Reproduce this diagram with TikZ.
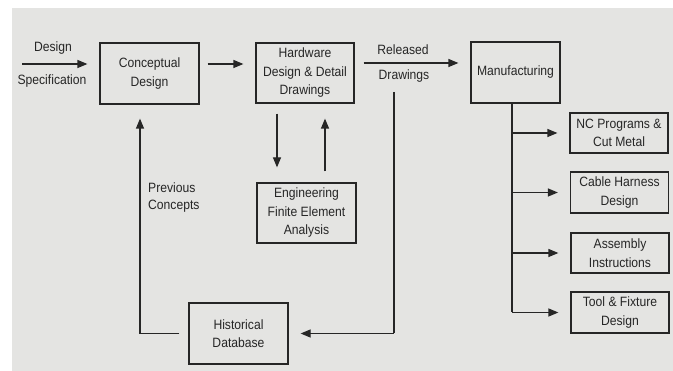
\documentclass[tikz,border=0pt]{standalone}
\usepackage{fontspec}
\setmainfont{Liberation Sans}[FakeStretch=0.9]
\usetikzlibrary{arrows.meta}
\definecolor{panel}{HTML}{E4E4E2}
\definecolor{ink}{HTML}{262626}
\tikzset{
  box/.style={draw=ink, line width=1.2pt, text=ink, align=center, inner sep=0pt, font=\fontsize{13.5}{18.5}\selectfont},
  lbl/.style={text=ink, inner sep=0pt, font=\fontsize{13.5}{18.5}\selectfont},
  arr/.style={draw=ink, line width=1.2pt, -{Triangle[length=10pt,width=8pt]}},
  ln/.style={draw=ink, line width=1.2pt}
}
\begin{document}
\begin{tikzpicture}[x=1pt,y=-1pt]
\useasboundingbox (0,0) rectangle (673,371);
\fill[white] (0,0) rectangle (673,371);
\fill[panel] (12,8) rectangle (673,371);

\node[box, minimum width=99pt, minimum height=61pt] (cd) at (149.5,73.5) {Conceptual\\Design};
\node[box, minimum width=98pt, minimum height=60pt] (hw) at (305,73) {Hardware\\Design \& Detail\\Drawings};
\node[box, minimum width=89pt, minimum height=61pt] (mf) at (515.5,72.5) {Manufacturing};
\node[box, minimum width=98pt, minimum height=40pt] (nc) at (619,133) {NC Programs \&\\Cut Metal};
\node[box, minimum width=98pt, minimum height=41pt] (ch) at (619.5,192.5) {Cable Harness\\Design};
\node[box, minimum width=98pt, minimum height=40pt] (ai) at (620,253) {Assembly\\Instructions};
\node[box, minimum width=98pt, minimum height=41pt] (tf) at (620,312.5) {Tool \& Fixture\\Design};
\node[box, minimum width=99pt, minimum height=60pt] (fe) at (306.5,213) {Engineering\\Finite Element\\Analysis};
\node[box, minimum width=99pt, minimum height=61pt] (hd) at (238.5,333.5) {Historical\\Database};

\node[lbl] (ldesign) at (53,48) {Design};
\node[lbl] (lspec) at (52,81) {Specification};
\node[lbl] (lrel) at (403,50) {Released};
\node[lbl] (ldraw) at (404,76.5) {Drawings};
\node[lbl, anchor=west] (lprev) at (148,187.5) {Previous};
\node[lbl, anchor=west] (lconc) at (148,206) {Concepts};

\coordinate (sin) at (22,64);
\coordinate (rd) at (394,92);
\coordinate (xa) at (277,0);
\coordinate (xu) at (325,0);
\coordinate (xb) at (140,0);
\coordinate (xt) at (512,0);
\coordinate (rdb) at (394,333.5);

\draw[arr, shorten >=12pt] (sin) -- (sin -| cd.west);
\draw[arr, shorten <=8pt, shorten >=12pt] (cd.east |- sin) -- (hw.west |- sin);
\draw[arr, shorten <=9pt, shorten >=12pt] (hw.east |- 0,63) -- (mf.west |- 0,63);

\draw[arr, shorten <=10pt, shorten >=15pt] (hw.south -| xa) -- (fe.north -| xa);
\draw[arr, shorten <=11pt, shorten >=15pt] (fe.north -| xu) -- (hw.south -| xu);

\draw[ln] (rd) -- (rdb);
\draw[arr, shorten >=12pt] (rdb) -- (hd.east);

\draw[arr, shorten >=14pt] (hd.west) ++(-9,0) -- (hd.west -| xb) -- (cd.south -| xb);

\draw[ln] (mf.south -| xt) -- (tf.west -| xt);
\draw[arr, shorten >=12pt] (nc.west -| xt) -- (nc.west);
\draw[arr, shorten >=12pt] (ch.west -| xt) -- (ch.west);
\draw[arr, shorten >=12pt] (ai.west -| xt) -- (ai.west);
\draw[arr, shorten >=12pt] (tf.west -| xt) -- (tf.west);
\end{tikzpicture}
\end{document}
